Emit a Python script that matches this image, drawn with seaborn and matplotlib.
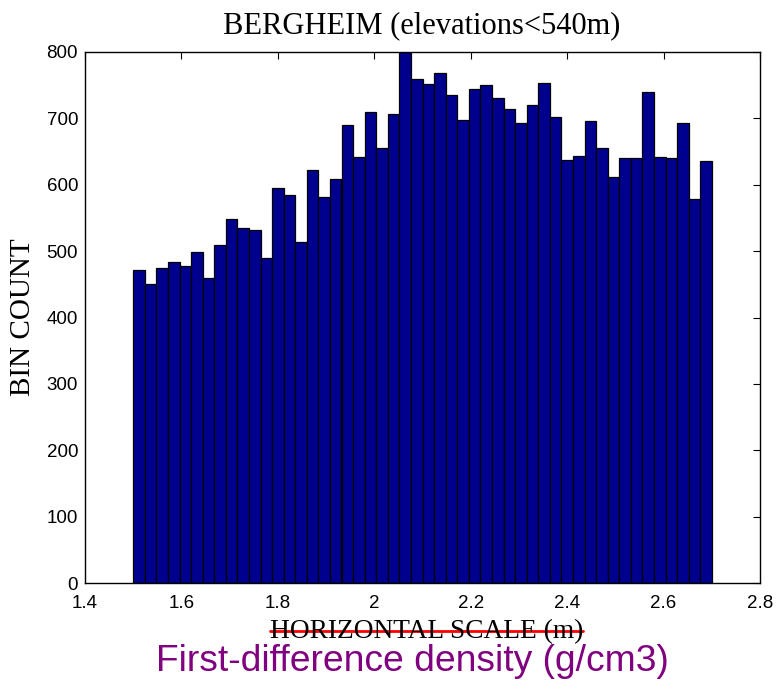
import numpy as np
import pandas as pd
import matplotlib
matplotlib.use("Agg")
import matplotlib.pyplot as plt
import seaborn as sns
from matplotlib.lines import Line2D

# ---- data ----
bin_start = 1.5
bin_end = 2.7
counts = [472, 451, 475, 483, 478, 499, 460, 509, 548, 535,
          532, 489, 595, 584, 513, 622, 582, 608, 690, 642,
          709, 655, 707, 800, 760, 752, 768, 735, 697, 744,
          750, 731, 714, 693, 720, 753, 702, 638, 643, 696,
          656, 612, 640, 641, 740, 642, 640, 693, 578, 636]
xticks = [1.4, 1.6, 1.8, 2.0, 2.2, 2.4, 2.6, 2.8]
xtick_labels = ["1.4", "1.6", "1.8", "2", "2.2", "2.4", "2.6", "2.8"]
yticks = [0, 100, 200, 300, 400, 500, 600, 700, 800]
title = "BERGHEIM (elevations<540m)"
ylabel = "BIN COUNT"
xlabel_old = "HORIZONTAL SCALE (m)"
xlabel_new = "First-difference density (g/cm3)"

nbins = len(counts)
edges = np.linspace(bin_start, bin_end, nbins + 1)
centers = (edges[:-1] + edges[1:]) / 2
df = pd.DataFrame({"x": centers, "w": counts})

sns.set_style("white")
plt.rcParams["font.family"] = ["Liberation Sans", "DejaVu Sans"]
plt.rcParams["text.color"] = "black"
plt.rcParams["axes.labelcolor"] = "black"

W, H = 776, 684
fig = plt.figure(figsize=(W / 100, H / 100), dpi=100)
ax = fig.add_axes([85 / W, 101 / H, 675 / W, 531 / H])

sns.histplot(data=df, x="x", weights="w", bins=nbins,
             binrange=(bin_start, bin_end), ax=ax,
             color="#00008F", edgecolor="black", linewidth=0.9, alpha=1.0)

ax.set_xlim(1.4, 2.8)
ax.set_ylim(0, 800)
ax.set_xticks(xticks)
ax.set_xticklabels(xtick_labels)
ax.set_yticks(yticks)
ax.tick_params(direction="in", top=True, right=True, length=5, width=0.8,
               labelsize=13.5, colors="black")
ax.tick_params(axis="y", pad=5)
ax.tick_params(axis="x", pad=8.5)
for s in ax.spines.values():
    s.set_visible(True)
    s.set_color("black")
    s.set_linewidth(1.0)

ax.set_xlabel("")
ax.set_ylabel("")

# title (baseline ~33 px from top)
fig.text(422 / W, 1 - 33 / H, title, fontfamily="Liberation Serif",
         fontsize=22, ha="center", va="baseline", color="black")
# y label
fig.text(23 / W, 1 - 317.5 / H, ylabel, fontfamily="Liberation Serif",
         fontsize=21, ha="center", va="center", rotation=90, color="black")
# struck-through old x label
lab = fig.text(426.5 / W, 1 - 638 / H, xlabel_old, fontfamily="Liberation Serif",
               fontsize=19.7, ha="center", va="baseline", color="black")
# new x label
fig.text(412 / W, 1 - 671 / H, xlabel_new, fontfamily="Liberation Sans",
         fontsize=26.8, ha="center", va="baseline", color="#800080")

fig.canvas.draw()
bb = lab.get_window_extent(renderer=fig.canvas.get_renderer())
x0, x1 = bb.x0 / fig.bbox.width, bb.x1 / fig.bbox.width
yl = 1 - 631 / H
fig.add_artist(Line2D([x0, x1], [yl, yl], transform=fig.transFigure,
                      color="red", linewidth=2))

fig.savefig("out.png", dpi=100)
